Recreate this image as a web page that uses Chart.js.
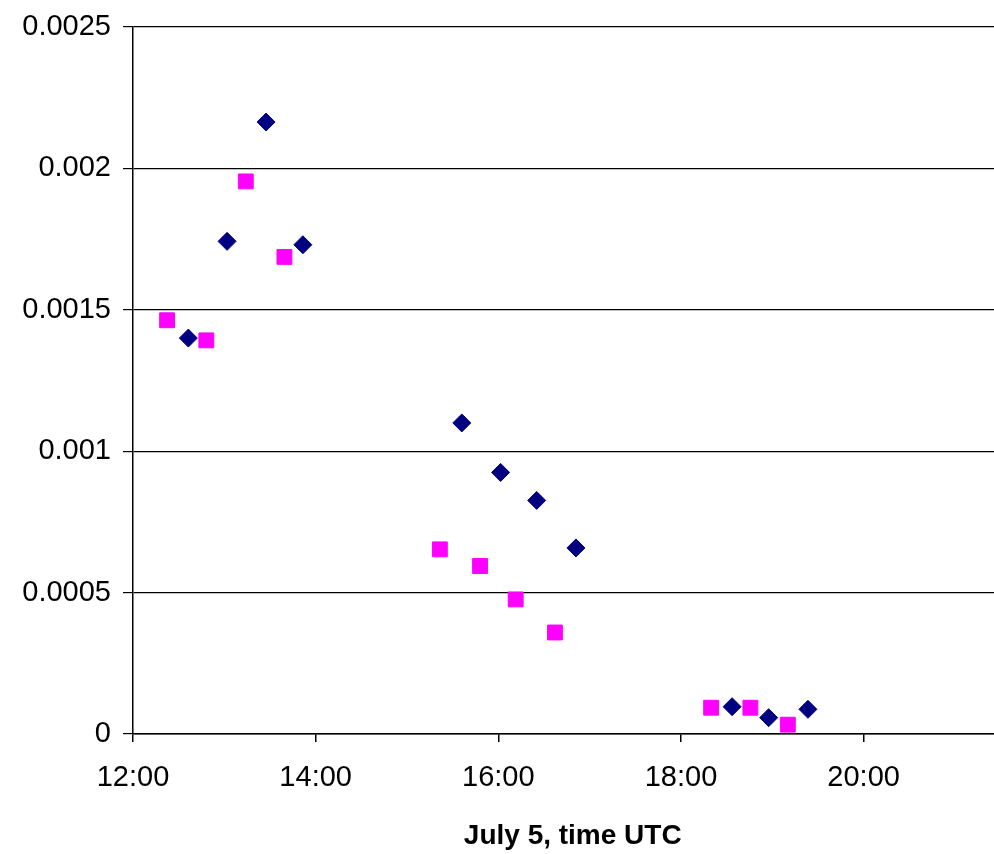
<!DOCTYPE html>
<html>
<head>
<meta charset="utf-8">
<script src="https://cdn.jsdelivr.net/npm/chart.js@4.4.1/dist/chart.umd.min.js"></script>
<style>
  html, body { margin: 0; padding: 0; background: #fff; overflow: hidden; }
  #wrap { width: 1024px; height: 854px; }
</style>
</head>
<body>
<div id="wrap"><canvas id="chart" width="1024" height="854"></canvas></div>
<script>
// Times are decimal hours UTC on July 5
const diamondTimes  = [12.606, 13.03, 13.457, 13.86, 15.60, 16.025, 16.42, 16.85, 18.56, 18.96, 19.39];
const diamondValues = [0.0014, 0.001742, 0.002164, 0.00173, 0.0011, 0.000925, 0.000826, 0.000658, 0.0000965, 0.0000576, 0.0000873];

const squareTimes  = [12.373, 12.803, 13.235, 13.658, 15.36, 15.80, 16.19, 16.62, 18.33, 18.76, 19.17];
const squareValues = [0.001463, 0.001392, 0.001954, 0.001687, 0.000653, 0.000594, 0.000476, 0.000359, 0.0000929, 0.0000929, 0.0000329];

const xTicks = [12, 14, 16, 18, 20];
const xTickLabels = ['12:00', '14:00', '16:00', '18:00', '20:00'];
const yTicks = [0, 0.0005, 0.001, 0.0015, 0.002, 0.0025];
const yTickLabels = ['0', '0.0005', '0.001', '0.0015', '0.002', '0.0025'];

const xTitle = 'July 5, time UTC';
const xMin = 12;
const xMax = 21.63;

function toPoints(xs, ys) {
    return xs.map((x, i) => ({ x: x, y: ys[i] }));
}

const fontFamily = "'Liberation Sans', Arial, sans-serif";

new Chart(document.getElementById('chart'), {
    type: 'scatter',
    data: {
        datasets: [
            {
                label: 'diamonds',
                data: toPoints(diamondTimes, diamondValues),
                pointStyle: 'rectRot',
                pointRadius: 9,
                pointBackgroundColor: '#000080',
                pointBorderColor: '#000080',
                pointBorderWidth: 1,
                order: 1
            },
            {
                label: 'squares',
                data: toPoints(squareTimes, squareValues),
                pointStyle: 'rect',
                pointRadius: 10.5,
                pointBackgroundColor: '#ff00ff',
                pointBorderColor: '#ff00ff',
                pointBorderWidth: 1,
                order: 0
            }
        ]
    },
    options: {
        responsive: false,
        animation: false,
        layout: { padding: { top: 27, right: 0, bottom: 0, left: 0 } },
        plugins: {
            legend: { display: false },
            tooltip: { enabled: false }
        },
        scales: {
            x: {
                type: 'linear',
                min: xMin,
                max: xMax,
                afterBuildTicks: function(scale) {
                    scale.ticks = xTicks.map(v => ({ value: v }));
                },
                afterFit: function(scale) {
                    scale.height = 120;
                },
                ticks: {
                    color: '#000',
                    padding: 19,
                    maxRotation: 0,
                    font: { family: fontFamily, size: 29 },
                    callback: function(value, index) {
                        return xTickLabels[index];
                    }
                },
                grid: {
                    drawOnChartArea: false,
                    color: '#000',
                    lineWidth: 1.5,
                    tickLength: 8
                },
                border: { color: '#000', width: 1.5 },
                title: {
                    display: true,
                    text: xTitle,
                    color: '#000',
                    font: { family: fontFamily, size: 28, weight: 'bold' },
                    padding: { top: 0, bottom: 1 }
                }
            },
            y: {
                min: 0,
                max: 0.0025,
                afterBuildTicks: function(scale) {
                    scale.ticks = yTicks.map(v => ({ value: v }));
                },
                afterFit: function(scale) {
                    scale.width = 133;
                    // let the layout padding alone decide where the plot starts
                    scale.paddingTop = 0;
                    scale.paddingBottom = 0;
                },
                ticks: {
                    color: '#000',
                    padding: 12,
                    font: { family: fontFamily, size: 29 },
                    callback: function(value, index) {
                        return yTickLabels[index];
                    }
                },
                grid: {
                    color: '#000',
                    lineWidth: 1.2,
                    tickLength: 10
                },
                border: { color: '#000', width: 1.5 }
            }
        }
    }
});
</script>
</body>
</html>
